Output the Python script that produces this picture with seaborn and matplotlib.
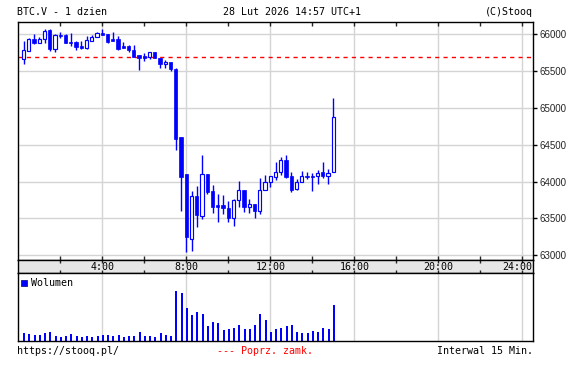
import numpy as np
import pandas as pd
import matplotlib
matplotlib.use("Agg")
import matplotlib.pyplot as plt
import seaborn as sns

# ---------------- data ----------------
interval_index = list(range(1, 61))          # 15-minute candles, 00:15 ... 15:00
open_ = [65667, 65778, 65931, 65884, 65931, 66060, 65796, 65995, 65991, 65894,
         65889, 65838, 65815, 65912, 65958, 66014, 66005, 65935, 65935, 65838,
         65838, 65792, 65722, 65699, 65694, 65764, 65681, 65597, 65625, 65522,
         64609, 64105, 63227, 63799, 63538, 64105, 63866, 63677, 63677, 63646,
         63511, 63754, 63889, 63655, 63700, 63601, 63889, 63997, 64060, 64136,
         64294, 64069, 63902, 63997, 64078, 64069, 64069, 64132, 64073, 64127]
close = [65782, 65935, 65884, 65931, 66042, 65796, 65991, 65981, 65884, 65884,
         65829, 65815, 65917, 65958, 66014, 65995, 65894, 65912, 65801, 65815,
         65782, 65690, 65676, 65681, 65764, 65681, 65597, 65625, 65523, 64577,
         64060, 63250, 63799, 63551, 64105, 63857, 63655, 63655, 63641, 63511,
         63745, 63889, 63655, 63700, 63601, 63889, 63997, 64069, 64136, 64294,
         64060, 63889, 63992, 64069, 64060, 64064, 64114, 64069, 64114, 64870]
high = [65907, 65944, 66000, 65968, 66069, 66069, 66005, 66028, 66000, 66014,
        65907, 65903, 65977, 65991, 66037, 66069, 66009, 66032, 65977, 65894,
        65852, 65852, 65722, 65741, 65764, 65764, 65681, 65644, 65625, 65536,
        64609, 64105, 63866, 63934, 64366, 64105, 63947, 63835, 63812, 63731,
        63758, 64001, 63889, 63767, 63700, 64046, 64091, 64069, 64271, 64339,
        64366, 64136, 64028, 64150, 64136, 64114, 64163, 64271, 64172, 65131]
low = [65597, 65773, 65870, 65884, 65875, 65773, 65759, 65944, 65875, 65843,
       65787, 65801, 65801, 65907, 65958, 65995, 65880, 65912, 65792, 65815,
       65755, 65690, 65518, 65634, 65667, 65681, 65537, 65537, 65495, 64429,
       63601, 63038, 63056, 63385, 63497, 63826, 63574, 63452, 63565, 63452,
       63398, 63655, 63587, 63578, 63506, 63565, 63889, 63925, 64015, 64091,
       64046, 63857, 63880, 63997, 64037, 63871, 63970, 64051, 63970, 64127]
volume = [7, 6, 5, 5, 7, 8, 4, 3, 4, 6, 4, 3, 4, 3, 4, 5, 5, 4, 5, 3,
          4, 4, 8, 4, 4, 3, 7, 5, 4, 49, 47, 32, 25, 28, 26, 14, 18, 17, 10, 11,
          12, 15, 11, 11, 15, 26, 20, 8, 11, 12, 14, 15, 8, 7, 7, 9, 8, 12, 11, 35]
prev_close = 65690
price_ticks = [63000, 63500, 64000, 64500, 65000, 65500, 66000]
hour_labels = ["4:00", "8:00", "12:00", "16:00", "20:00", "24:00"]
hour_label_pos = [4, 8, 12, 16, 20, 24]

title_left = "BTC.V - 1 dzien"
title_mid = "28 Lut 2026 14:57 UTC+1"
title_right = "(C)Stooq"
foot_left = "https://stooq.pl/"
foot_mid = "--- Poprz. zamk."
foot_right = "Interwal 15 Min."
vol_label = "Wolumen"

df = pd.DataFrame({"t": np.array(interval_index) * 0.25, "open": open_,
                   "high": high, "low": low, "close": close, "volume": volume})

# ---------------- style ----------------
sns.set_theme(style="white")
plt.rcParams["font.family"] = ["DejaVu Sans"]
BLUE = "#0000ff"
GRID = "#d4d4d4"
MONO = "DejaVu Sans Mono"
W, H = 578, 366

fig = plt.figure(figsize=(W / 100, H / 100), dpi=100)
fig.patch.set_facecolor("white")

def rect(l, t, r, b):
    return [l / W, 1 - b / H, (r - l) / W, (b - t) / H]

L, R = 17.5, 533
ax = fig.add_axes(rect(L, 22, R, 259.5))
axs = fig.add_axes(rect(L, 259.5, R, 273))
axv = fig.add_axes(rect(L, 273, R, 341))

XL = (-0.04, 24.51)
for a in (ax, axs, axv):
    a.set_xlim(*XL)
    for s in a.spines.values():
        s.set_visible(True)
        s.set_color("black")
        s.set_linewidth(1.0)

# ---------------- main price panel ----------------
ax.set_facecolor("white")
ax.set_ylim(62942, 66166)
for yv in price_ticks:
    ax.axhline(yv, color=GRID, lw=1.0, zorder=0)
for xv in hour_label_pos:
    ax.axvline(xv, color=GRID, lw=1.0, zorder=0)
ax.axhline(prev_close, color="#ff0000", lw=1.0, ls=(0, (3, 3)), zorder=1)

# wicks
ax.vlines(df["t"], df["low"], df["high"], color=BLUE, lw=1.0, zorder=2)
# bodies
bw = 0.155
up = df["close"] >= df["open"]
bottoms = np.minimum(df["open"], df["close"])
heights = np.maximum(np.abs(df["close"] - df["open"]), 14)
ax.bar(df["t"][up], heights[up], bottom=bottoms[up], width=bw,
       facecolor="white", edgecolor=BLUE, linewidth=0.85, zorder=3)
ax.bar(df["t"][~up], heights[~up], bottom=bottoms[~up], width=bw,
       facecolor=BLUE, edgecolor=BLUE, linewidth=0.5, zorder=3)

ax.yaxis.tick_right()
ax.set_yticks(price_ticks)
ax.set_yticklabels([str(v) for v in price_ticks], fontsize=7, family="Liberation Sans")
ax.tick_params(axis="y", which="both", direction="out", length=3, width=1,
               color="black", pad=2, right=True, left=False, labelright=True,
               labelleft=False)
ax.set_xticks(np.arange(2, 25, 2))
ax.tick_params(axis="x", which="both", direction="in", length=3, width=1,
               top=True, bottom=True, labelbottom=False, labeltop=False)
ax.set_xlabel("")
ax.set_ylabel("")

# ---------------- time strip ----------------
axs.set_facecolor("#e6e6e6")
axs.set_ylim(0, 1)
axs.set_yticks([])
axs.set_xticks(np.arange(2, 25, 2))
axs.tick_params(axis="x", which="both", direction="in", length=2.5, width=1,
                top=True, bottom=True, labelbottom=False, labeltop=False)
for xv, lab in zip(hour_label_pos, hour_labels):
    ha = "center"
    xx = xv
    if xv == 24:
        ha = "right"
        xx = XL[1] - 0.05
    axs.text(xx, 0.42, lab, ha=ha, va="center", fontsize=7.2, family=MONO,
             color="black")

# ---------------- volume panel ----------------
axv.set_facecolor("white")
for xv in hour_label_pos:
    axv.axvline(xv, color=GRID, lw=1.0, zorder=0)
sns.barplot(data=df, x="t", y="volume", native_scale=True, width=0.2,
            color=BLUE, saturation=1, linewidth=0, errorbar=None, ax=axv,
            zorder=2)
for p in axv.patches:
    p.set_antialiased(False)
    p.set_edgecolor(BLUE)
    p.set_linewidth(0.4)
axv.set_xlim(*XL)
axv.set_ylim(-1, 67)
axv.set_xticks([])
axv.set_yticks([])
axv.set_xlabel("")
axv.set_ylabel("")
axv.scatter([0.012], [0.855], marker="s", s=22, color=BLUE, edgecolor="#000080",
            linewidth=0.5, transform=axv.transAxes, zorder=5, clip_on=False)
axv.text(0.026, 0.855, vol_label, transform=axv.transAxes, ha="left",
         va="center", fontsize=7.2, family=MONO, color="black")

# ---------------- header / footer texts ----------------
fig.text(17 / W, 1 - 12 / H, title_left, ha="left", va="center", fontsize=7.2,
         family=MONO, color="black")
fig.text(292 / W, 1 - 12 / H, title_mid, ha="center", va="center", fontsize=7.2,
         family=MONO, color="black")
fig.text(533 / W, 1 - 12 / H, title_right, ha="right", va="center", fontsize=7.2,
         family=MONO, color="black")
fig.text(17 / W, 1 - 351 / H, foot_left, ha="left", va="center", fontsize=7.2,
         family=MONO, color="black")
fig.text(265 / W, 1 - 351 / H, foot_mid, ha="center", va="center", fontsize=7.2,
         family=MONO, color="#ff0000")
fig.text(533 / W, 1 - 351 / H, foot_right, ha="right", va="center", fontsize=7.2,
         family=MONO, color="black")

fig.savefig("out.png", dpi=100, facecolor="white")
